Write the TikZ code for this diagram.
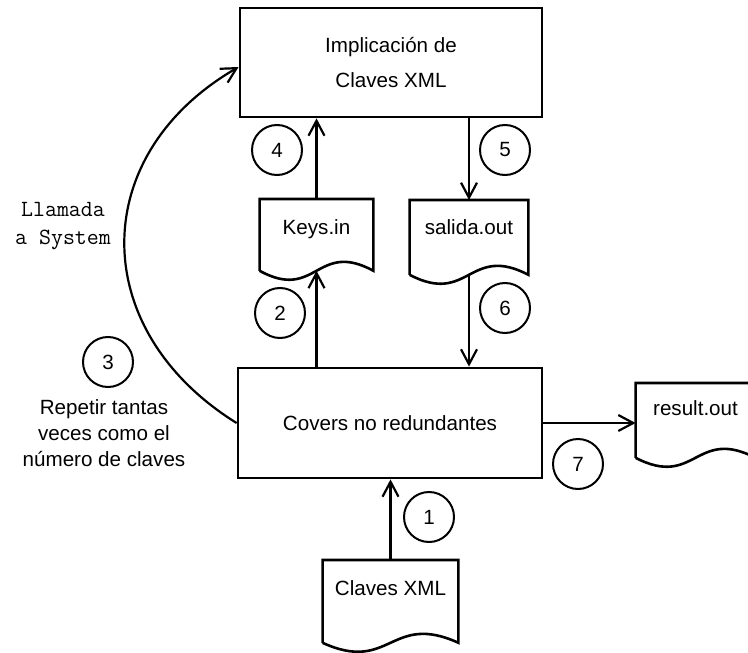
\documentclass[tikz,border=0pt]{standalone}
\usepackage{fontspec}
\setmainfont{Liberation Sans}
\usetikzlibrary{arrows.meta}

\tikzset{
  proc/.style={draw, line width=1.4pt, rectangle, align=center, inner sep=0pt},
  doc/.style={rectangle, anchor=north, inner sep=0pt},
  num/.style={draw, line width=1pt, circle, minimum size=25pt, inner sep=0pt},
  arr/.style={line width=1.1pt, -{Straight Barb[length=7.5pt,width=8pt,line width=1.1pt]}},
  wave/.style={line width=1.3pt, line join=miter}
}

\begin{document}
\begin{tikzpicture}[x=0.5pt, y=-0.5pt, font=\fontsize{10.3}{17.5}\selectfont]

\clip (0,0) rectangle (748,652);

% procesos
\node [proc, minimum width=151pt, minimum height=54.5pt] (impl) at (391,62.5) {Implicación de\\Claves XML};
\node [proc, minimum width=152pt, minimum height=55pt] (cov) at (390,423) {Covers no redundantes};

% documentos
\node [doc, minimum width=56.5pt, text height=17.5pt, text depth=18pt] (keys) at (316.5,199) {Keys.in};
\node [doc, minimum width=59pt, text height=17pt, text depth=20pt] (salida) at (469,200) {salida.out};
\node [doc, minimum width=59.5pt, text height=16pt, text depth=21pt] (result) at (695.5,383) {result.out};
\node [doc, minimum width=67.5pt, text height=17.5pt, text depth=23.5pt] (claves) at (390.5,560) {Claves XML};

\foreach \d in {keys,salida,result,claves}
  \draw [wave] (\d.south west) -- (\d.north west) -- (\d.north east) -- (\d.south east)
    .. controls ([yshift=15.5pt]\d.south) and ([yshift=-15.5pt]\d.south) .. (\d.south west);

% pasos
\node [num] (n1) at (429,517) {1};
\node [num] (n2) at (280,313) {2};
\node [num] (n3) at (108,362) {3};
\node [num] (n4) at (277,150) {4};
\node [num] (n5) at (505,150) {5};
\node [num] (n6) at (505,308) {6};
\node [num] (n7) at (578,464) {7};

% textos
\node [align=center, font=\ttfamily\fontsize{11.6}{14}\selectfont] (llamada) at (63,226) {Llamada\\a System};
\node [align=center, font=\fontsize{10.3}{13}\selectfont] (repetir) at (104,433) {Repetir tantas\\veces como el\\número de claves};

% flechas
\draw [arr] (claves.north) -- (claves.north |- cov.south);
\draw [arr] (keys.south |- cov.north) -- (keys.south);
\draw [arr] (keys.north) -- (keys.north |- impl.south);
\draw [arr] (salida.north |- impl.south) -- (salida.north);
\draw [arr] (salida.south) -- (salida.south |- cov.north);
\draw [arr] (cov.east) -- (cov.east -| result.west);
\draw [arr] (cov.west) .. controls (87,330) and (87,155) .. ([yshift=-2.25pt]impl.west);

\end{tikzpicture}
\end{document}
